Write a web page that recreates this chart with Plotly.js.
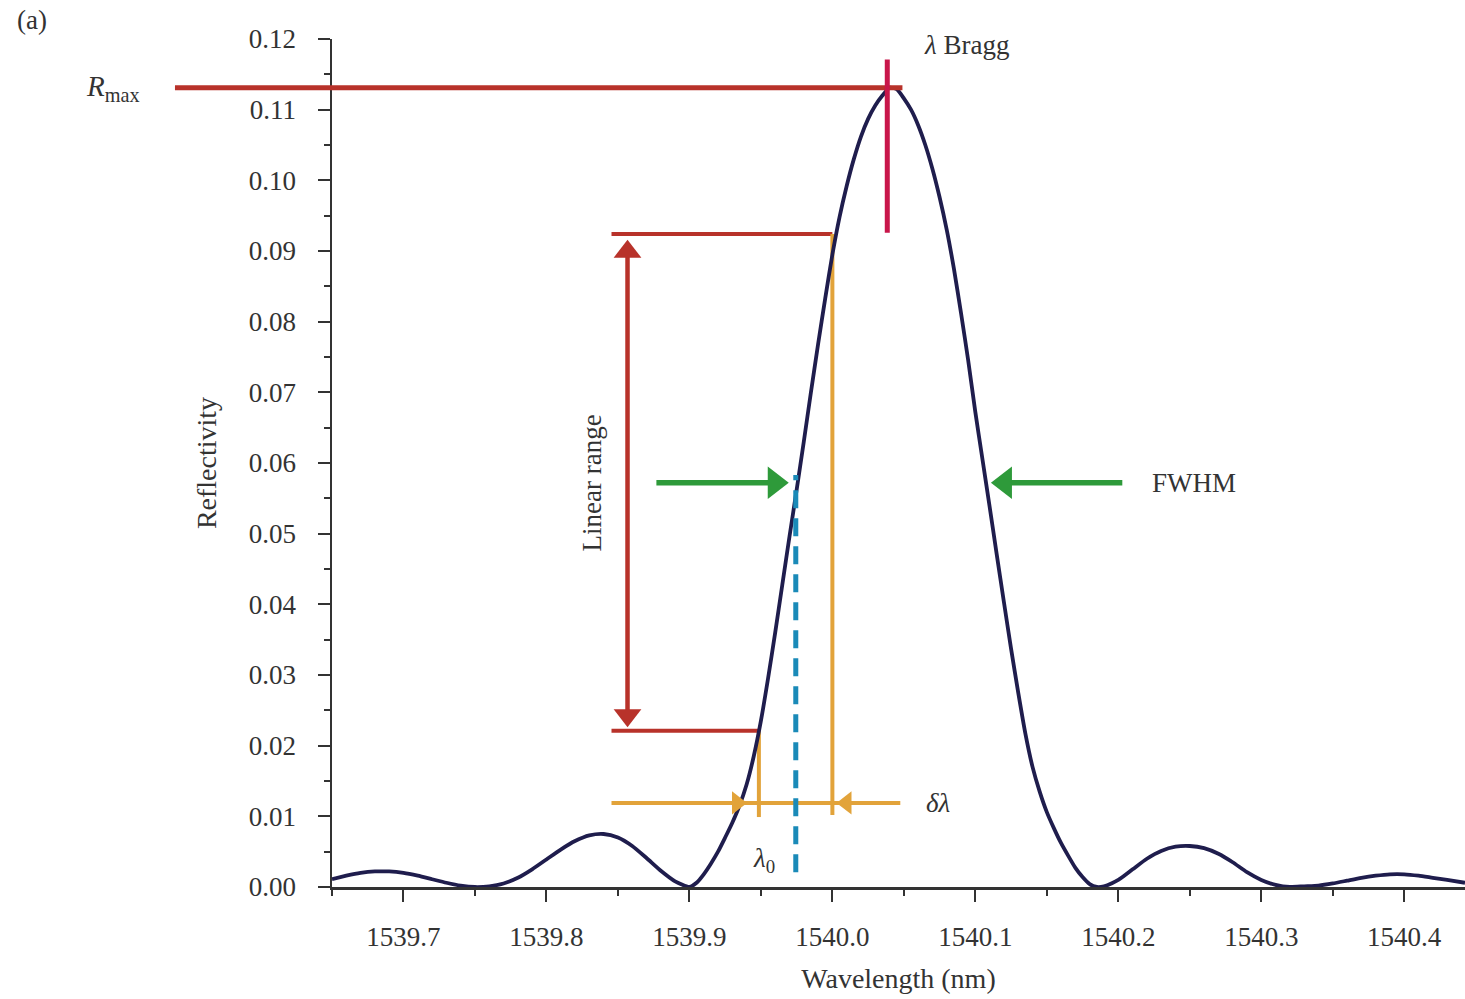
<!DOCTYPE html>
<html>
<head>
<meta charset="utf-8">
<script src="https://cdn.plot.ly/plotly-3.0.1.min.js"></script>
<style>
  html, body { margin: 0; padding: 0; background: #ffffff; }
  #chart { width: 1465px; height: 999px; }
</style>
</head>
<body>
<div id="chart"></div>
<script>
// ---- Data ----
const wavelength = [
  1539.650, 1539.660, 1539.670, 1539.680, 1539.690, 1539.700, 1539.710, 1539.720, 1539.730, 1539.740,
  1539.750, 1539.760, 1539.770, 1539.780, 1539.790, 1539.800, 1539.810, 1539.820, 1539.830, 1539.840,
  1539.850, 1539.860, 1539.870, 1539.880, 1539.890, 1539.900,
  1539.905, 1539.910, 1539.915, 1539.920, 1539.925, 1539.930, 1539.935, 1539.940, 1539.945, 1539.950,
  1539.955, 1539.960, 1539.965, 1539.970, 1539.975, 1539.980, 1539.985, 1539.990, 1539.995, 1540.000,
  1540.005, 1540.010, 1540.015, 1540.020, 1540.025, 1540.030, 1540.035, 1540.040, 1540.045,
  1540.050, 1540.055, 1540.060, 1540.065, 1540.070, 1540.075, 1540.080, 1540.085, 1540.090, 1540.095,
  1540.100, 1540.105, 1540.110, 1540.115, 1540.120, 1540.125, 1540.130, 1540.135, 1540.140, 1540.145,
  1540.150, 1540.155, 1540.160, 1540.165, 1540.170, 1540.175, 1540.180, 1540.185,
  1540.190, 1540.200, 1540.210, 1540.220, 1540.230, 1540.240, 1540.250, 1540.260, 1540.270, 1540.280,
  1540.290, 1540.300, 1540.310, 1540.320, 1540.330, 1540.340, 1540.350, 1540.360, 1540.370, 1540.380,
  1540.390, 1540.400, 1540.410, 1540.420, 1540.430, 1540.4425
];
const reflectivity = [
  0.0011, 0.0016, 0.0020, 0.0022, 0.0022, 0.0020, 0.0016, 0.0011, 0.0006, 0.0002,
  0.0000, 0.0001, 0.0005, 0.0013, 0.0025, 0.0039, 0.0053, 0.0065, 0.0073, 0.0075,
  0.0070, 0.0058, 0.0041, 0.0023, 0.0008, 0.0000,
  0.0006, 0.0018, 0.0033, 0.0050, 0.0070, 0.0091, 0.0115, 0.0145, 0.0185, 0.0235,
  0.0295, 0.0360, 0.0428, 0.0496, 0.0562, 0.0630, 0.0700, 0.0768, 0.0833, 0.0895,
  0.0948, 0.0992, 0.1030, 0.1062, 0.1087, 0.1106, 0.1120, 0.1131, 0.1129,
  0.1116, 0.1100, 0.1078, 0.1050, 0.1016, 0.0976, 0.0930, 0.0875, 0.0812, 0.0745,
  0.0672, 0.0605, 0.0538, 0.0470, 0.0403, 0.0337, 0.0275, 0.0217, 0.0170, 0.0135,
  0.0106, 0.0083, 0.0062, 0.0044, 0.0027, 0.0014, 0.0004, 0.0000,
  0.0001, 0.0010, 0.0025, 0.0040, 0.0051, 0.0057, 0.0058, 0.0055, 0.0047, 0.0035,
  0.0021, 0.0010, 0.0003, 0.0000, 0.0001, 0.0002, 0.0005, 0.0009, 0.0013, 0.0016,
  0.0018, 0.0018, 0.0016, 0.0013, 0.0010, 0.0006
];

const xTickValues = [1539.7, 1539.8, 1539.9, 1540.0, 1540.1, 1540.2, 1540.3, 1540.4];
const yTickValues = [0.00, 0.01, 0.02, 0.03, 0.04, 0.05, 0.06, 0.07, 0.08, 0.09, 0.10, 0.11, 0.12];

// Annotated quantities
const R_MAX = 0.1131;
const LAMBDA_BRAGG = 1540.0384;
const LINEAR_TOP = 0.0924;
const LINEAR_BOTTOM = 0.0221;
const LAMBDA_TOP = 1540.000;
const LAMBDA_BOTTOM = 1539.9486;
const LAMBDA_0 = 1539.9744;
const HALF_MAX = 0.0572;
const FWHM_LEFT = 1539.9695;
const FWHM_RIGHT = 1540.1109;
const DELTA_LEVEL = 0.0119;
const LINEAR_ARROW_X = 1539.8567;
const BRACKET_LEFT = 1539.8455;

// ---- Styles ----
const FONT = 'Liberation Serif, Times New Roman, serif';
const TXT = '#333333';
const RED = '#b8322a';
const CRIMSON = '#c8164a';
const ORANGE = '#e2a33a';
const GREEN = '#2e9a3a';
const TEAL = '#1a8ab8';

// plot geometry (for converting arrowhead pixel offsets)
const x0 = 1539.65, x1 = 1540.4425, y0 = 0, y1 = 0.12;
const PLOT_W = 1465 - 332, PLOT_H = 999 - 39 - 112;
const DXPX = (x1 - x0) / PLOT_W, DYPX = (y1 - y0) / PLOT_H;
function paperX(v) { return (v - x0) / (x1 - x0); }

const curve = {
  x: wavelength,
  y: reflectivity,
  type: 'scatter',
  mode: 'lines',
  line: { color: '#1f1d4d', width: 3.8, shape: 'spline', smoothing: 0.6 },
  hoverinfo: 'skip',
  showlegend: false
};

// arrowheads as triangle markers (tip placed on the target point)
const RED_SZ = 24, GREEN_SZ = 28, OR_SZ = 20;
const heads = [
  { x: LINEAR_ARROW_X, y: 0.0916 - (RED_SZ / 2) * DYPX, s: 'triangle-up', c: RED, z: RED_SZ },
  { x: LINEAR_ARROW_X, y: LINEAR_BOTTOM + 0.0005 + (RED_SZ / 2) * DYPX, s: 'triangle-down', c: RED, z: RED_SZ },
  { x: FWHM_LEFT - (GREEN_SZ / 2) * DXPX, y: HALF_MAX, s: 'triangle-right', c: GREEN, z: GREEN_SZ },
  { x: FWHM_RIGHT + (GREEN_SZ / 2) * DXPX, y: HALF_MAX, s: 'triangle-left', c: GREEN, z: GREEN_SZ },
  { x: 1539.9403 - (OR_SZ / 2) * DXPX, y: DELTA_LEVEL, s: 'triangle-right', c: ORANGE, z: OR_SZ },
  { x: 1540.0029 + (OR_SZ / 2) * DXPX, y: DELTA_LEVEL, s: 'triangle-left', c: ORANGE, z: OR_SZ }
];
const headTrace = {
  x: heads.map(h => h.x),
  y: heads.map(h => h.y),
  type: 'scatter',
  mode: 'markers',
  marker: { symbol: heads.map(h => h.s), color: heads.map(h => h.c), size: heads.map(h => h.z),
            opacity: 1, line: { width: 0 } },
  hoverinfo: 'skip',
  showlegend: false,
  cliponaxis: false
};

function hline(xa, xb, y, color, width, xref) {
  return { type: 'line', xref: xref || 'x', yref: 'y', x0: xa, x1: xb, y0: y, y1: y,
           line: { color: color, width: width }, layer: 'below' };
}
function vline(x, ya, yb, color, width, dash) {
  return { type: 'line', xref: 'x', yref: 'y', x0: x, x1: x, y0: ya, y1: yb,
           line: { color: color, width: width, dash: dash || 'solid' }, layer: 'below' };
}

const shapes = [
  // R max horizontal line (extends left of the plot area)
  Object.assign(hline(-0.1386, paperX(1540.049), R_MAX, RED, 5, 'paper'), { layer: 'above' }),
  // Bragg wavelength marker
  Object.assign(vline(LAMBDA_BRAGG, 0.0926, 0.1171, CRIMSON, 5), { layer: 'above' }),
  // Linear range bracket
  hline(BRACKET_LEFT, LAMBDA_TOP, LINEAR_TOP, RED, 4),
  hline(BRACKET_LEFT, LAMBDA_BOTTOM, LINEAR_BOTTOM, RED, 4),
  vline(LINEAR_ARROW_X, LINEAR_BOTTOM + 0.002, 0.0905, RED, 4.5),
  // orange verticals and delta-lambda line
  vline(LAMBDA_TOP, LINEAR_TOP, 0.0102, ORANGE, 4),
  vline(LAMBDA_BOTTOM, LINEAR_BOTTOM, 0.0099, ORANGE, 4),
  hline(BRACKET_LEFT, 1540.0475, DELTA_LEVEL, ORANGE, 4),
  // FWHM arrow shafts
  hline(1539.8769, FWHM_LEFT - GREEN_SZ * 0.5 * DXPX, HALF_MAX, GREEN, 5.5),
  hline(FWHM_RIGHT + GREEN_SZ * 0.5 * DXPX, 1540.2028, HALF_MAX, GREEN, 5.5),
  // lambda_0 dashed line
  Object.assign(vline(LAMBDA_0, 0.0021, 0.0583, TEAL, 5, '18px,10px'), { layer: 'above' })
];

function label(x, y, text, extra) {
  return Object.assign({ x: x, y: y, xref: 'x', yref: 'y', text: text, showarrow: false,
    xanchor: 'center', yanchor: 'middle',
    font: { family: FONT, size: 27, color: TXT } }, extra || {});
}

const annotations = [
  label(-0.193, R_MAX, '<i>R</i><sub>max</sub>', { xref: 'paper', font: { family: FONT, size: 29, color: TXT } }),
  label(1540.0935, 0.1192, '<i>λ</i> Bragg'),
  label(1539.8316, HALF_MAX, 'Linear range', { textangle: -90 }),
  label(1540.2529, HALF_MAX, 'FWHM'),
  label(1540.074, DELTA_LEVEL, '<i>δλ</i>'),
  label(1539.952, 0.0038, '<i>λ</i><sub>0</sub>'),
  label(-0.2648, 1.0224, '(a)', { xref: 'paper', yref: 'paper' })
];

const layout = {
  width: 1465,
  height: 999,
  margin: { l: 332, r: 0, t: 39, b: 112, pad: 0 },
  paper_bgcolor: '#ffffff',
  plot_bgcolor: 'rgba(0,0,0,0)',
  font: { family: FONT, size: 27, color: TXT },
  showlegend: false,
  xaxis: {
    range: [x0, x1],
    tickmode: 'array',
    tickvals: xTickValues,
    ticktext: xTickValues.map(v => v.toFixed(1)),
    showline: true, linecolor: '#333', linewidth: 2.5,
    ticks: 'outside', ticklen: 12, tickwidth: 2, tickcolor: '#333',
    ticklabelstandoff: 12,
    minor: { dtick: 0.05, tick0: 1539.65, ticks: 'outside', ticklen: 6, tickwidth: 2, tickcolor: '#333', showgrid: false },
    showgrid: false, zeroline: false, automargin: false,
    tickfont: { family: FONT, size: 27, color: TXT },
    title: { text: 'Wavelength (nm)', standoff: 18, font: { family: FONT, size: 28, color: TXT } }
  },
  yaxis: {
    range: [y0, y1],
    tickmode: 'array',
    tickvals: yTickValues,
    ticktext: yTickValues.map(v => v.toFixed(2)),
    showline: true, linecolor: '#333', linewidth: 2.5,
    ticks: 'outside', ticklen: 12, tickwidth: 2, tickcolor: '#333',
    ticklabelstandoff: 16,
    minor: { dtick: 0.005, tick0: 0, ticks: 'outside', ticklen: 6, tickwidth: 2, tickcolor: '#333', showgrid: false },
    showgrid: false, zeroline: false, automargin: false,
    tickfont: { family: FONT, size: 27, color: TXT },
    title: { text: 'Reflectivity', standoff: 24, font: { family: FONT, size: 28, color: TXT } }
  },
  shapes: shapes,
  annotations: annotations
};

Plotly.newPlot('chart', [curve, headTrace], layout, { displayModeBar: false, staticPlot: true });
</script>
</body>
</html>
